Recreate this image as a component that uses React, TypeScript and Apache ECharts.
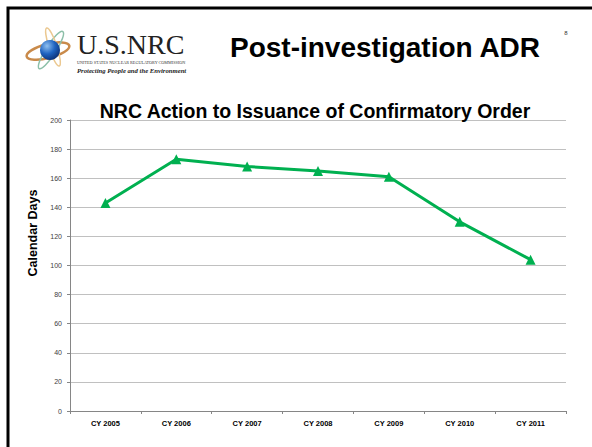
import React, { useEffect, useRef } from "react";
import * as echarts from "echarts";

const categories = ["CY 2005", "CY 2006", "CY 2007", "CY 2008", "CY 2009", "CY 2010", "CY 2011"];
const calendarDays = [143, 173, 168, 165, 161, 130, 104];
const yMin = 0;
const yMax = 200;
const yInterval = 20;

const slideTitle = "Post-investigation ADR";
const chartTitle = "NRC Action to Issuance of Confirmatory Order";
const yAxisName = "Calendar Days";
const pageNumber = "8";

export default function App() {
  const ref = useRef<HTMLDivElement>(null);
  useEffect(() => {
    if (!ref.current) return;
    const chart = echarts.init(ref.current, null, { renderer: "svg" });
    chart.setOption({
      animation: false,
      backgroundColor: "#ffffff",
      title: {
        text: chartTitle,
        left: 310,
        textAlign: "center",
        top: 96,
        textStyle: { fontFamily: "Liberation Sans, Arial, sans-serif", fontWeight: "bold", fontSize: 19.5, color: "#000" },
      },
      grid: { left: 70, top: 120, right: 26, bottom: 36, containLabel: false },
      xAxis: {
        type: "category",
        data: categories,
        boundaryGap: true,
        axisLine: { lineStyle: { color: "#868686", width: 1 } },
        axisTick: { show: true, length: 3, lineStyle: { color: "#868686" } },
        axisLabel: { fontFamily: "Liberation Sans, Arial, sans-serif", fontWeight: "bold", fontSize: 7.5, color: "#000", margin: 8 },
        splitLine: { show: false },
      },
      yAxis: {
        type: "value",
        min: yMin,
        max: yMax,
        interval: yInterval,
        axisLine: { show: true, lineStyle: { color: "#868686", width: 1 } },
        axisTick: { show: true, length: 3, lineStyle: { color: "#868686" } },
        axisLabel: { fontFamily: "Liberation Sans, Arial, sans-serif", fontSize: 7, color: "#404040", margin: 8 },
        splitLine: { show: true, lineStyle: { color: "#c0c0c0", width: 1 } },
      },
      series: [
        {
          type: "line",
          data: calendarDays,
          symbol: "triangle",
          symbolSize: 10,
          lineStyle: { color: "#00b050", width: 3 },
          itemStyle: { color: "#00b050" },
        },
      ],
      graphic: [
        {
          type: "rect",
          shape: { x: 8, y: 8, width: 620, height: 470 },
          style: { fill: "none", stroke: "#000", lineWidth: 3 },
          silent: true,
        },
        {
          type: "text",
          x: 33,
          y: 233,
          rotation: Math.PI / 2,
          style: { text: yAxisName, fontFamily: "Liberation Sans, Arial, sans-serif", fontWeight: "bold", fontSize: 12.5, fill: "#000", align: "center", verticalAlign: "middle" },
        },
        {
          type: "ellipse",
          shape: { cx: 48, cy: 51, rx: 22, ry: 7 },
          rotation: 0.25,
          originX: 48,
          originY: 51,
          style: { fill: "none", stroke: "#c98a4a", lineWidth: 2.5 },
        },
        {
          type: "ellipse",
          shape: { cx: 51, cy: 50, rx: 22, ry: 5 },
          rotation: 1.0,
          originX: 51,
          originY: 50,
          style: { fill: "none", stroke: "#8cbfa8", lineWidth: 1.5 },
        },
        {
          type: "ellipse",
          shape: { cx: 53, cy: 47, rx: 20, ry: 4 },
          rotation: -1.25,
          originX: 53,
          originY: 47,
          style: { fill: "none", stroke: "#ebc890", lineWidth: 1.5 },
        },
        {
          type: "circle",
          shape: { cx: 50, cy: 50, r: 10 },
          style: {
            fill: new echarts.graphic.RadialGradient(0.35, 0.3, 0.8, [
              { offset: 0, color: "#8fc0f0" },
              { offset: 0.5, color: "#1f63c0" },
              { offset: 1, color: "#0b2a6b" },
            ]),
          },
        },
        {
          type: "text",
          x: 77,
          y: 44.5,
          style: { text: "U.S.NRC", fontFamily: "Liberation Serif, Times New Roman, serif", fontSize: 28, fill: "#222", verticalAlign: "middle" },
        },
        {
          type: "text",
          x: 77,
          y: 62.8,
          style: { text: "UNITED STATES NUCLEAR REGULATORY COMMISSION", fontFamily: "Liberation Serif, serif", fontSize: 4.2, fill: "#333", verticalAlign: "middle" },
        },
        {
          type: "text",
          x: 77,
          y: 70.5,
          style: { text: "Protecting People and the Environment", fontFamily: "Liberation Serif, serif", fontStyle: "italic", fontWeight: "bold", fontSize: 6.7, fill: "#222", verticalAlign: "middle" },
        },
        {
          type: "text",
          x: 385,
          y: 47,
          style: { text: slideTitle, fontFamily: "Liberation Sans, Arial, sans-serif", fontWeight: "bold", fontSize: 28, fill: "#000", align: "center", verticalAlign: "middle" },
        },
        {
          type: "text",
          x: 566,
          y: 33,
          style: { text: pageNumber, fontFamily: "Liberation Sans, Arial, sans-serif", fontSize: 6, fill: "#333", align: "center", verticalAlign: "middle" },
        },
      ],
    });
    return () => chart.dispose();
  }, []);
  return <div ref={ref} style={{ position: "fixed", left: 0, top: 0, width: 592, height: 447 }} />;
}
